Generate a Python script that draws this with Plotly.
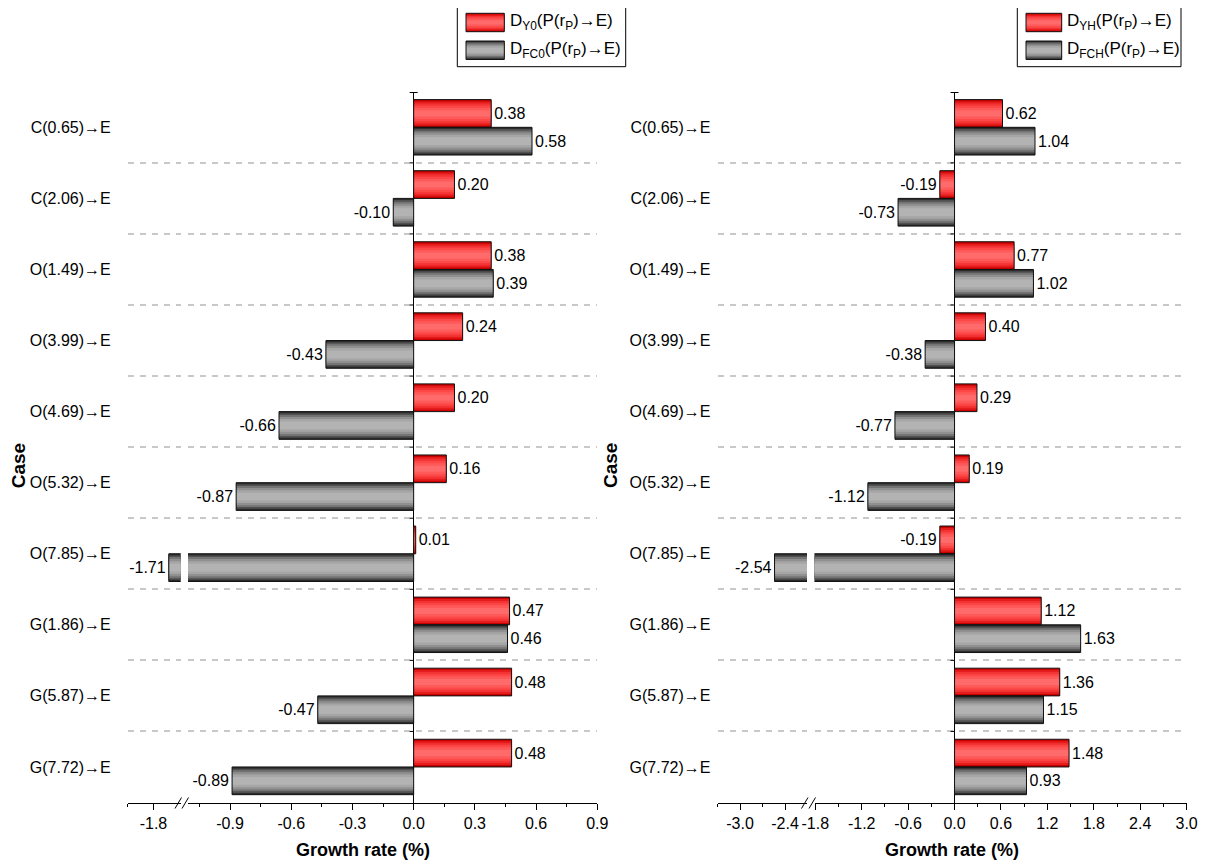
import plotly.graph_objects as go

W, H = 1200, 856          # page has an 8px body margin at left/top
OFF = 8
FONT = "Arial, Liberation Sans, sans-serif"

# ---------------- data ----------------
cases = ["C(0.65)→E", "C(2.06)→E", "O(1.49)→E", "O(3.99)→E", "O(4.69)→E",
         "O(5.32)→E", "O(7.85)→E", "G(1.86)→E", "G(5.87)→E", "G(7.72)→E"]
d_y0 = [0.38, 0.20, 0.38, 0.24, 0.20, 0.16, 0.01, 0.47, 0.48, 0.48]
d_fc0 = [0.58, -0.10, 0.39, -0.43, -0.66, -0.87, -1.71, 0.46, -0.47, -0.89]
d_yh = [0.62, -0.19, 0.77, 0.40, 0.29, 0.19, -0.19, 1.12, 1.36, 1.48]
d_fch = [1.04, -0.73, 1.02, -0.38, -0.77, -1.12, -2.54, 1.63, 1.15, 0.93]

left_lo_ticks = [-1.8]
left_lo_labels = ["-1.8"]
left_lo_minor = [-1.95]
left_hi_ticks = [-0.9, -0.6, -0.3, 0.0, 0.3, 0.6, 0.9]
left_hi_labels = ["-0.9", "-0.6", "-0.3", "0.0", "0.3", "0.6", "0.9"]
right_lo_ticks = [-3.0, -2.4]
right_lo_labels = ["-3.0", "-2.4"]
right_lo_minor = [-3.3, -2.7]
right_hi_ticks = [-1.8, -1.2, -0.6, 0.0, 0.6, 1.2, 1.8, 2.4, 3.0]
right_hi_labels = ["-1.8", "-1.2", "-0.6", "0.0", "0.6", "1.2", "1.8", "2.4", "3.0"]

# axis segment ranges (broken axes)
L_LO = [-1.951, -1.64]
L_HI = [-1.106, 0.9005]
R_LO = [-3.301, -2.107]
R_HI = [-1.81, 3.002]


def px(x):
    return (x - OFF) / W


def py(y):
    return 1 - (y - OFF) / H


BAR_W = 0.39
RED_LAYERS = [(1.0, "#c80000"), (0.86, "#e41c1c"), (0.72, "#f43434"),
              (0.56, "#fd4848"), (0.40, "#ff5a5a"), (0.22, "#ff6a6a")]
GREY_LAYERS = [(1.0, "#2c2c2c"), (0.88, "#515151"), (0.76, "#747474"),
               (0.62, "#909090"), (0.46, "#a6a6a6"), (0.28, "#b3b3b3")]

fig = go.Figure()


def add_fill(values, base_off, layers, xa, ya):
    center = base_off + BAR_W / 2
    for f, c in layers:
        w = BAR_W * f
        fig.add_trace(go.Bar(y=cases, x=values, orientation="h", xaxis=xa, yaxis=ya,
                             width=w, offset=center - w / 2,
                             marker=dict(color=c, line=dict(width=0)),
                             showlegend=False, hoverinfo="skip"))


def add_outline(values, base_off, xa, ya):
    fig.add_trace(go.Bar(y=cases, x=values, orientation="h", xaxis=xa, yaxis=ya,
                         width=BAR_W, offset=base_off,
                         marker=dict(color="rgba(0,0,0,0)", line=dict(color="#111111", width=1)),
                         showlegend=False, hoverinfo="skip"))


def add_labels(values, base_off, xa, ya, rng):
    idx = [i for i, v in enumerate(values) if rng[0] <= v <= rng[1]]
    if not idx:
        return
    fig.add_trace(go.Bar(y=[cases[i] for i in idx], x=[values[i] for i in idx],
                         orientation="h", xaxis=xa, yaxis=ya,
                         width=BAR_W, offset=base_off,
                         marker=dict(color="rgba(0,0,0,0)", line=dict(width=0)),
                         text=[f"{values[i]:.2f}" for i in idx],
                         textposition="outside", textangle=0,
                         constraintext="none", cliponaxis=True,
                         textfont=dict(family=FONT, size=16, color="black"),
                         showlegend=False, hoverinfo="skip"))


panels = [
    (d_y0, d_fc0, [("x", "y", L_LO), ("x2", "y", L_HI)]),
    (d_yh, d_fch, [("x3", "y2", R_LO), ("x4", "y2", R_HI)]),
]
for red_vals, grey_vals, segs in panels:
    for xa, ya, rng in segs:
        add_fill(red_vals, -BAR_W, RED_LAYERS, xa, ya)
        add_fill(grey_vals, 0.0, GREY_LAYERS, xa, ya)
        add_outline(red_vals, -BAR_W, xa, ya)
        add_outline(grey_vals, 0.0, xa, ya)
        add_labels(red_vals, -BAR_W, xa, ya, rng)
        add_labels(grey_vals, 0.0, xa, ya, rng)

TOP, BOT = 92.5, 802.5


def xaxis_common(domain, rng, tickvals, ticktext, anchor, zeroline, minor):
    return dict(domain=domain, range=rng, anchor=anchor, tickmode="array",
                tickvals=tickvals, ticktext=ticktext, ticks="outside", ticklen=6,
                tickwidth=1, tickcolor="black", showline=True, linecolor="black",
                linewidth=1, showgrid=False, zeroline=zeroline, zerolinecolor="black",
                zerolinewidth=1, tickfont=dict(family=FONT, size=16, color="black"),
                minor=minor, automargin=False, fixedrange=True)


minor_style = dict(ticks="outside", ticklen=3, tickwidth=1, tickcolor="black", showgrid=False)

yaxis_common = dict(type="category", categoryorder="array", categoryarray=cases,
                    range=[9.5, -0.49], domain=[py(BOT), py(TOP)], tickson="boundaries",
                    showgrid=True, gridcolor="#c8c8c8", gridwidth=1.5, griddash="6px,6px",
                    showline=False, ticks="", zeroline=False,
                    tickfont=dict(family=FONT, size=16, color="black"), automargin=False)

fig.update_layout(
    width=W, height=H, margin=dict(l=0, r=0, t=0, b=0),
    paper_bgcolor="white", plot_bgcolor="white", barmode="overlay",
    showlegend=False, template="none",
    xaxis=xaxis_common([px(127.7), px(180.7)], L_LO, left_lo_ticks, left_lo_labels, "y", False,
                       dict(tickmode="array", tickvals=left_lo_minor, **minor_style)),
    xaxis2=xaxis_common([px(188), px(597.4)], L_HI, left_hi_ticks, left_hi_labels, "y", True,
                        dict(dtick=0.15, tick0=0, **minor_style)),
    xaxis3=xaxis_common([px(717.5), px(807)], R_LO, right_lo_ticks, right_lo_labels, "y2", False,
                        dict(tickmode="array", tickvals=right_lo_minor, **minor_style)),
    xaxis4=xaxis_common([px(814.5), px(1186.8)], R_HI, right_hi_ticks, right_hi_labels, "y2", True,
                        dict(dtick=0.3, tick0=0, **minor_style)),
    yaxis=dict(anchor="x", ticklabelstandoff=16, **yaxis_common),
    yaxis2=dict(anchor="x3", ticklabelstandoff=6, **yaxis_common),
)

shapes = []
annotations = []

# small ticks on the zero line at group boundaries
for xa, ya in [("x2", "y"), ("x4", "y2")]:
    for b in range(9):
        shapes.append(dict(type="line", xref=xa, yref=ya, xsizemode="pixel", xanchor=0,
                           x0=-4, x1=0, y0=b + 0.5, y1=b + 0.5,
                           line=dict(color="black", width=1)))
    shapes.append(dict(type="line", xref=xa, yref="paper", xsizemode="pixel", xanchor=0,
                       x0=-4, x1=4, y0=py(TOP), y1=py(TOP), line=dict(color="black", width=1)))

# axis-break slashes
for xs in [(175, 182), (801.5, 809)]:
    for x0 in xs:
        shapes.append(dict(type="line", xref="paper", yref="paper",
                           x0=px(x0), y0=py(808.5), x1=px(x0 + 6.5), y1=py(797.5),
                           line=dict(color="black", width=1)))


# legends (drawn as boxes + text)
def legend(box, sym_x, text_x, labels):
    shapes.append(dict(type="rect", xref="paper", yref="paper",
                       x0=px(box[0]), x1=px(box[2]), y0=py(box[3]), y1=py(box[1]),
                       line=dict(color="black", width=1), fillcolor="white"))
    rows = [(13.3, 31.7, RED_LAYERS), (41.0, 59.5, GREY_LAYERS)]
    for (y0, y1, layers), lab in zip(rows, labels):
        c = (y0 + y1) / 2
        h = y1 - y0
        for f, col in layers:
            shapes.append(dict(type="rect", xref="paper", yref="paper",
                               x0=px(sym_x[0]), x1=px(sym_x[1]),
                               y0=py(c + h * f / 2), y1=py(c - h * f / 2),
                               line=dict(width=0), fillcolor=col))
        shapes.append(dict(type="rect", xref="paper", yref="paper",
                           x0=px(sym_x[0]), x1=px(sym_x[1]), y0=py(y1), y1=py(y0),
                           line=dict(color="#111111", width=1), fillcolor="rgba(0,0,0,0)"))
        annotations.append(dict(xref="paper", yref="paper", x=px(text_x), y=py(c),
                                xanchor="left", yanchor="middle", showarrow=False, text=lab,
                                font=dict(family=FONT, size=17, color="black")))


legend((457.3, 4, 625.7, 66.7), (466, 504.3), 508,
       ["D<sub>Y0</sub>(P(r<sub>P</sub>)→E)", "D<sub>FC0</sub>(P(r<sub>P</sub>)→E)"])
legend((1017.3, 4, 1181, 66.7), (1026, 1061.7), 1065,
       ["D<sub>YH</sub>(P(r<sub>P</sub>)→E)", "D<sub>FCH</sub>(P(r<sub>P</sub>)→E)"])

# axis titles
for cx in [362.5, 952]:
    annotations.append(dict(xref="paper", yref="paper", x=px(cx), y=py(850),
                            xanchor="center", yanchor="middle", showarrow=False,
                            text="<b>Growth rate (%)</b>",
                            font=dict(family=FONT, size=18, color="black")))
for cx in [18.3, 610]:
    annotations.append(dict(xref="paper", yref="paper", x=px(cx), y=py(466),
                            xanchor="center", yanchor="middle", showarrow=False,
                            text="<b>Case</b>", textangle=-90,
                            font=dict(family=FONT, size=19, color="black")))

fig.update_layout(shapes=shapes, annotations=annotations)
fig.write_html("out.html")
